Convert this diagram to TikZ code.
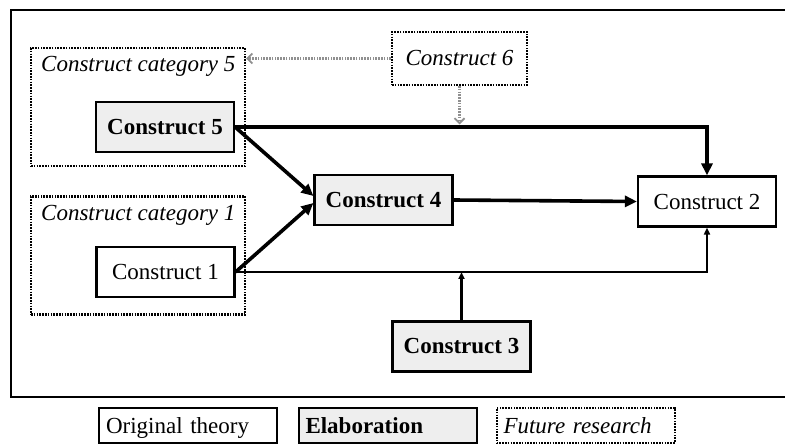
\documentclass[tikz,border=0pt]{standalone}
\usepackage{fontspec}
\setmainfont{Liberation Serif}
\usetikzlibrary{shapes,arrows,arrows.meta,positioning}

\definecolor{elabgray}{HTML}{EEEEEE}
\definecolor{futgray}{HTML}{909090}

\tikzset{
  dotline/.style={dash pattern=on 1.6pt off 1.2pt},
  box/.style={draw, line width=2.2pt, minimum width=138pt, minimum height=50pt,
    inner sep=2pt, font=\fontsize{23}{27}\selectfont},
  origbox/.style={box},
  elabbox/.style={box, fill=elabgray, font=\fontsize{23}{27}\selectfont\bfseries},
  futbox/.style={box, dotline, font=\fontsize{23}{27}\selectfont\itshape},
  catbox/.style={draw, dotline, line width=2.2pt, minimum width=214pt, minimum height=118pt},
  catlabel/.style={anchor=west, inner sep=0pt, font=\fontsize{23}{27}\selectfont\itshape},
  keybox/.style={draw, line width=2pt, minimum width=178pt, minimum height=35pt,
    text width=164pt, text depth=0pt, align=left, inner sep=7pt, font=\fontsize{23}{27}\selectfont},
  bigarrow/.style={line width=3.6pt, -{Triangle[length=12pt,width=11pt]}},
  smallarrow/.style={line width=2.2pt, -{Triangle[length=7pt,width=6pt]}},
  futarrow/.style={line width=2.2pt, dotline, futgray, -{Straight Barb[length=5pt,width=10pt,line width=1.8pt]}}
}

\begin{document}
\begin{tikzpicture}[x=1pt, y=-1pt]
\useasboundingbox (0,0) rectangle (785,446);
\draw [line width=2.4pt] (790,10) -- (11,10) -- (11,397) -- (790,397);

% categories
\node [catbox] (cat5) at (138,107) {};
\node [catbox] (cat1) at (138,255.5) {};
\node [catlabel] (cat5lbl) at (41,66) {Construct category 5};
\node [catlabel] (cat1lbl) at (41,215) {Construct category 1};

% constructs
\node [elabbox] (c5) at (165,127) {Construct 5};
\node [origbox] (c1) at (165.5,272) {Construct 1};
\node [elabbox] (c4) at (383.5,200) {Construct 4};
\node [origbox] (c2) at (707,201.5) {Construct 2};
\node [elabbox] (c3) at (461.5,346.5) {Construct 3};
\node [futbox, minimum width=135pt, minimum height=53pt] (c6) at (459.5,58.5) {Construct 6};

\coordinate (j3) at (c3.north |- c1.east);
\coordinate (j6) at (c6.south |- c5.east);

\draw [bigarrow] (c5.east) -- ([yshift=4pt]c4.west);
\draw [bigarrow] (c1.east) -- ([yshift=-3pt]c4.west);
\draw [bigarrow] (c5.east) -| (c2.north);
\draw [bigarrow] (c4.east) -- (c2.west);
\draw [smallarrow] (c1.east) -| (c2.south);
\draw [smallarrow] (c3.north) -- (j3);
\draw [futarrow, shorten >=2.5pt] (c6.south) -- (j6);
\draw [futarrow] (c6.west) -- (c6.west -| cat5.east);

% legend
\node [keybox] (korig) at (188,425.5) {Original theory};
\node [keybox, fill=elabgray, font=\fontsize{23}{27}\selectfont\bfseries] (kelab) at (387.5,425.5) {Elaboration};
\node [keybox, dotline, font=\fontsize{23}{27}\selectfont\itshape] (kfut) at (585.5,425.5) {Future research};
\end{tikzpicture}
\end{document}
